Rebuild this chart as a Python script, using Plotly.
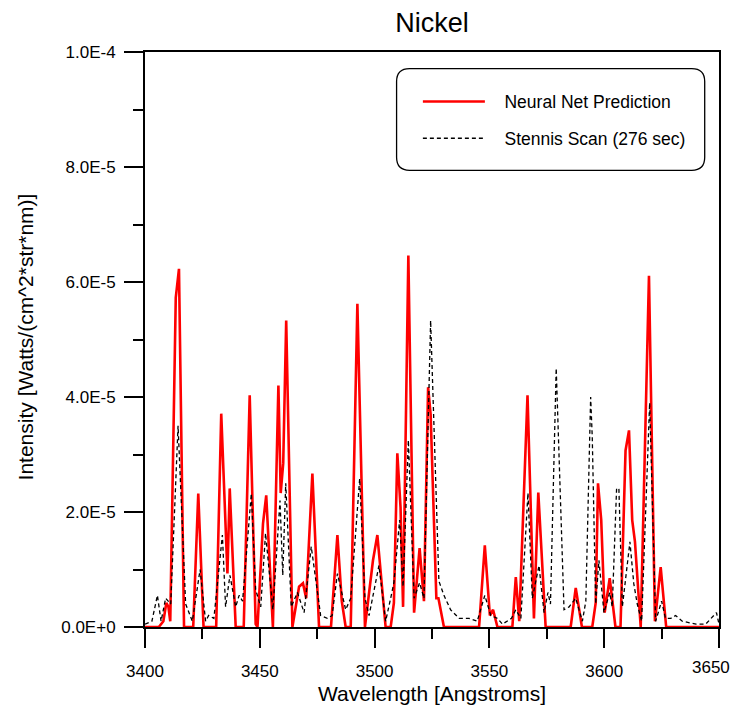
import plotly.graph_objects as go

# Wavelength (Angstroms) and intensity (units of 1E-5 W/(cm^2*str*nm))
nn_wl = [3400, 3406, 3408, 3409.3, 3410.2, 3411, 3413.4, 3414.8, 3417, 3421, 3423.2, 3425.5,
         3431, 3433.2, 3435.9, 3436.9, 3439.5, 3443, 3445.6, 3448.2, 3449, 3451.4, 3452.8,
         3455.7, 3458.1, 3459.1, 3460.2, 3461.5, 3464.2, 3467.1, 3468.8, 3470.2, 3472.9,
         3475.8, 3481, 3483.8, 3485.7, 3487.4, 3489.6, 3492.5, 3495.8, 3499.3, 3501.2,
         3504.8, 3507, 3508.4, 3509.9, 3511.3, 3512.4, 3514.7, 3517.2, 3519.6, 3521.5,
         3523.3, 3524.4, 3526.9, 3527.8, 3530.2, 3545.5, 3548, 3550.2, 3551.6, 3553.5,
         3560, 3561.5, 3563, 3566.6, 3569.4, 3571.3, 3574.5, 3585.4, 3587.6, 3590.3,
         3594.8, 3596.3, 3597.3, 3598.7, 3600.2, 3602.4, 3604.9, 3607.1, 3609.3, 3610.8,
         3612.2, 3613.4, 3615.9, 3619.5, 3622.1, 3624.6, 3625.2, 3627, 3650]
nn_val = [0, 0, 0.1, 0.42, 0.35, 0.1, 5.73, 6.23, 0, 0, 2.32, 0,
          0, 3.71, 0.93, 2.41, 0, 0, 4.03, 0.05, 0, 1.8, 2.29,
          0, 4.2, 2.33, 2.85, 5.33, 0, 0.7, 0.76, 0.5, 2.67,
          0, 0, 1.6, 0.45, 0, 0, 5.62, 0, 1.16, 1.6,
          0, 0, 0.42, 3.02, 2.08, 0.35, 6.46, 0.25, 1.37, 0.45,
          4.17, 3.7, 0.5, 0.5, 0, 0, 1.42, 0.2, 0.3, 0,
          0, 0.87, 0.1, 4.03, 0.15, 2.34, 0, 0, 0.68, 0,
          0, 0.42, 2.5, 1.86, 0.25, 0.85, 0, 0, 3.07, 3.42,
          1.86, 1.48, 0, 6.11, 0.1, 1.04, 0.8, 0, 0]

scan_wl = [3400, 3403, 3405.4, 3407, 3409, 3411.2, 3414.4, 3417.7, 3420.6, 3424, 3426.4, 3427.7,
           3430, 3433.7, 3435.1, 3437, 3439.5, 3441, 3442.5, 3446.3, 3448.2, 3450.4, 3452.5,
           3455.7, 3458.8, 3460, 3461.3, 3463.7, 3466.4, 3469.3, 3472.4, 3476.5, 3479.4,
           3481.5, 3483.8, 3487.4, 3489.6, 3493.5, 3495.8, 3497.6, 3501.9, 3504.8, 3507,
           3508.4, 3510.9, 3512.4, 3514.7, 3517.2, 3519.6, 3521.5, 3524.4, 3528, 3530.2,
           3533.1, 3536.8, 3541.1, 3544.7, 3548, 3550.6, 3553.5, 3555.7, 3559.6, 3561.5,
           3563.7, 3566.8, 3568.7, 3571.6, 3573.8, 3575.5, 3576.6, 3579.1, 3582.5, 3584.7,
           3587.6, 3590.5, 3592, 3594.1, 3594.8, 3596.3, 3597.7, 3599.9, 3602.4, 3603.5,
           3605.4, 3606.4, 3607.9, 3611.2, 3612.9, 3614.4, 3616.3, 3619.8, 3622.4, 3625,
           3626.7, 3629, 3631.1, 3634, 3637, 3640, 3644.2, 3647.8, 3648.9, 3650]
scan_val = [0.05, 0.1, 0.55, 0.1, 0.5, 0.4, 3.5, 0.4, 0.1, 1.0, 0.1, 0.2,
            0.15, 1.6, 0.35, 0.9, 0.35, 0.55, 0.45, 2.32, 0.65, 0.35, 1.63,
            0.3, 2.2, 0.9, 2.5, 0.35, 0.6, 0.25, 1.4, 0.2, 0.15,
            0.2, 0.93, 0.3, 0.5, 2.58, 0.5, 0.2, 1.07, 0.1, 0.5,
            0.77, 1.86, 0.7, 3.25, 0.5, 0.77, 0.5, 5.33, 0.8, 0.55,
            0.3, 0.15, 0.15, 0.1, 0.55, 0.2, 0.15, 0.05, 0.15, 0.3,
            0.15, 2.33, 0.5, 1.07, 0.25, 0.6, 0.4, 4.5, 0.3, 0.35,
            0.5, 0.1, 0.45, 4.0, 3.3, 0.4, 1.16, 0.25, 0.6, 0.35,
            2.41, 2.41, 0.35, 1.48, 0.75, 0.4, 0.1, 3.9, 0.1, 0.45,
            0.15, 0.15, 0.2, 0.1, 0.08, 0.05, 0.05, 0.2, 0.25, 0.05]

x_ticks = [3400, 3450, 3500, 3550, 3600, 3650]
x_ticktext = ["3400", "3450", "3500", "3550", "3600", ""]
x_last_label = "3650"
x_minor = [3425, 3475, 3525, 3575, 3625]
y_ticks = [0, 2e-5, 4e-5, 6e-5, 8e-5, 1e-4]
y_ticktext = ["0.0E+0", "2.0E-5", "4.0E-5", "6.0E-5", "8.0E-5", "1.0E-4"]
y_minor = [1e-5, 3e-5, 5e-5, 7e-5, 9e-5]

SCALE = 1e-5
FONT = "Liberation Sans, Arial, Helvetica, sans-serif"
NB = "\u00a0\u00a0\u00a0"

fig = go.Figure()
fig.add_trace(go.Scatter(
    x=nn_wl, y=[v * SCALE for v in nn_val], mode="lines",
    name=NB + "Neural Net Prediction", legendgroup="a",
    line=dict(color="#ff0000", width=2.6)))
fig.add_trace(go.Scatter(
    x=scan_wl, y=[v * SCALE for v in scan_val], mode="lines",
    name=NB + "Stennis Scan (276 sec)", legendgroup="b",
    line=dict(color="black", width=1.3, dash="4px,3px")))

axis_common = dict(showline=True, linecolor="black", linewidth=2, mirror=True,
                   ticks="outside", ticklen=19, tickwidth=2, tickcolor="black",
                   showgrid=False, zeroline=False, automargin=False,
                   tickfont=dict(family=FONT, size=17, color="black"))

fig.update_xaxes(range=[3400, 3650], tickvals=x_ticks, ticktext=x_ticktext,
                 ticklabelstandoff=9,
                 minor=dict(tickvals=x_minor, ticks="outside", ticklen=10,
                            tickwidth=2, tickcolor="black", showgrid=False),
                 **axis_common)
fig.update_yaxes(range=[0, 1e-4], tickvals=y_ticks, ticktext=y_ticktext,
                 ticklabelstandoff=5,
                 minor=dict(tickvals=y_minor, ticks="outside", ticklen=10,
                            tickwidth=2, tickcolor="black", showgrid=False),
                 **axis_common)

# rounded legend frame (paper coordinates)
x0, x1, y0, y1 = 0.4383, 0.9751, 0.7943, 0.9711
rx, ry = 0.0226, 0.0226
path = (f"M{x0+rx},{y1} L{x1-rx},{y1} Q{x1},{y1} {x1},{y1-ry} L{x1},{y0+ry} "
        f"Q{x1},{y0} {x1-rx},{y0} L{x0+rx},{y0} Q{x0},{y0} {x0},{y0+ry} "
        f"L{x0},{y1-ry} Q{x0},{y1} {x0+rx},{y1} Z")

W, H = 733, 697
fig.update_layout(
    width=W, height=H,
    margin=dict(l=137, r=22, t=44, b=78, pad=0),
    paper_bgcolor="white", plot_bgcolor="white",
    font=dict(family=FONT, color="black"),
    title=dict(text="Nickel", x=0.5, xanchor="center", xref="paper",
               y=1 - 15 / H, yanchor="middle", yref="container",
               font=dict(family=FONT, size=27, color="black")),
    showlegend=True,
    legend=dict(x=0.4754, y=0.945, xanchor="left", yanchor="top",
                bgcolor="rgba(0,0,0,0)", borderwidth=0,
                font=dict(family=FONT, size=17.5, color="black"),
                itemwidth=62, tracegroupgap=11, traceorder="grouped"),
    shapes=[dict(type="path", path=path, xref="paper", yref="paper",
                 line=dict(color="black", width=1.3), fillcolor="rgba(0,0,0,0)")],
    annotations=[
        dict(text=x_last_label, xref="x", yref="paper",
             x=x_ticks[-1], y=-0.0696, xanchor="right", yanchor="middle",
             xshift=13, showarrow=False,
             font=dict(family=FONT, size=17, color="black")),
        dict(text="Wavelength [Angstroms]", xref="paper", yref="paper",
             x=0.5, y=-0.1153, xanchor="center", yanchor="middle",
             showarrow=False, font=dict(family=FONT, size=21, color="black")),
        dict(text="Intensity [Watts/(cm^2*str*nm)]", xref="paper", yref="paper",
             x=-0.2089, y=0.5038, xanchor="center", yanchor="middle",
             textangle=-90, showarrow=False,
             font=dict(family=FONT, size=21, color="black")),
    ],
)

fig.write_html("out.html")
